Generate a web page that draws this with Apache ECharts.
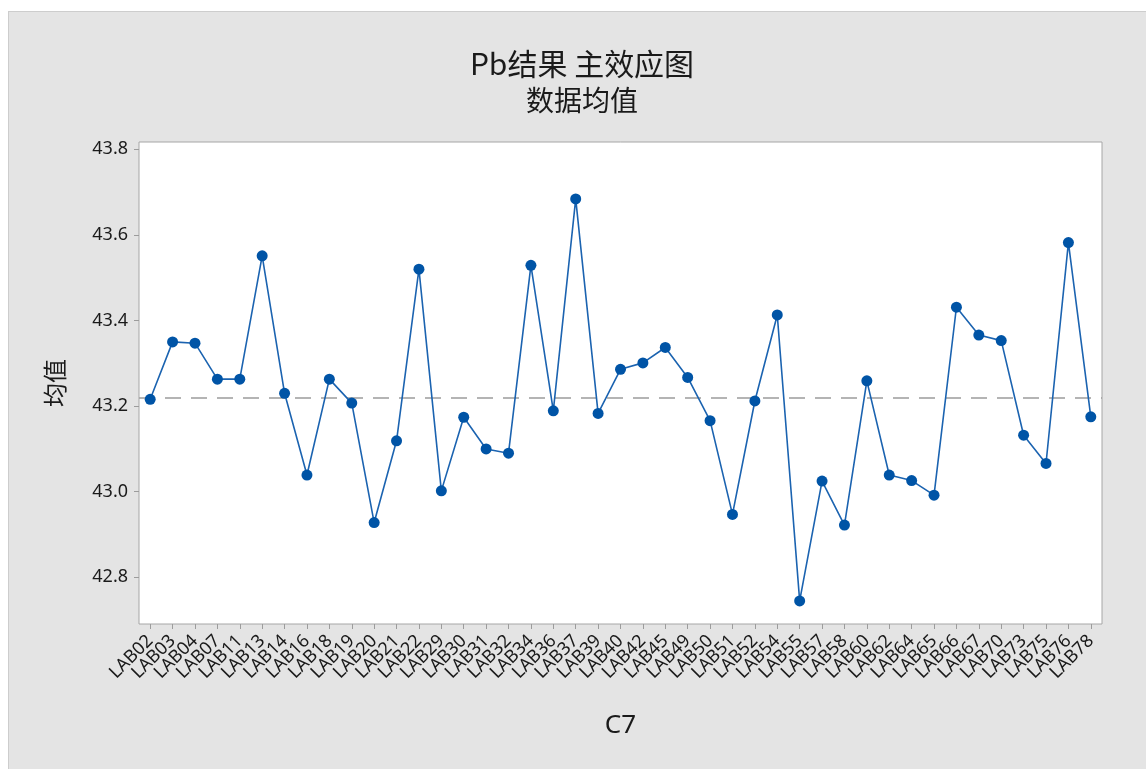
<!DOCTYPE html>
<html>
<head>
<meta charset="utf-8">
<title>Pb结果 主效应图</title>
<script src="https://cdn.jsdelivr.net/npm/echarts@6/dist/echarts.min.js"></script>
<style>
    html, body { margin: 0; padding: 0; background: #fff; }
    #panel {
        position: absolute; left: 8px; top: 11px; right: 0; bottom: 0;
        background: #e4e4e4; border-left: 1px solid #cdcdcd; border-top: 1px solid #cdcdcd;
    }
    #chart { position: absolute; left: 0; top: 0; width: 1146px; height: 769px; }
</style>
</head>
<body>
<div id="panel"></div>
<div id="chart"></div>
<script>
var labs = ['LAB02', 'LAB03', 'LAB04', 'LAB07', 'LAB11', 'LAB13', 'LAB14', 'LAB16', 'LAB18', 'LAB19',
    'LAB20', 'LAB21', 'LAB22', 'LAB29', 'LAB30', 'LAB31', 'LAB32', 'LAB34', 'LAB36', 'LAB37',
    'LAB39', 'LAB40', 'LAB42', 'LAB45', 'LAB49', 'LAB50', 'LAB51', 'LAB52', 'LAB54', 'LAB55',
    'LAB57', 'LAB58', 'LAB60', 'LAB62', 'LAB64', 'LAB65', 'LAB66', 'LAB67', 'LAB70', 'LAB73',
    'LAB75', 'LAB76', 'LAB78'];
var means = [43.216, 43.350, 43.347, 43.263, 43.263, 43.551, 43.230, 43.039, 43.263, 43.207,
    42.928, 43.119, 43.520, 43.002, 43.174, 43.100, 43.090, 43.529, 43.189, 43.684,
    43.183, 43.286, 43.301, 43.337, 43.267, 43.166, 42.947, 43.212, 43.413, 42.745,
    43.025, 42.922, 43.259, 43.039, 43.026, 42.992, 43.431, 43.366, 43.353, 43.132,
    43.066, 43.582, 43.175];
var yTicks = [42.8, 43.0, 43.2, 43.4, 43.6, 43.8];

var chart = echarts.init(document.getElementById('chart'));
var txt = '#1a1a1a';
var gray = '#9c9c9c';

chart.setOption({
    animation: false,
    backgroundColor: 'transparent',
    title: {
        text: 'Pb结果 主效应图',
        subtext: '数据均值',
        left: 582,
        textAlign: 'center',
        top: 49,
        padding: 0,
        itemGap: 7,
        textStyle: { fontFamily: 'Noto Sans CJK SC', fontSize: 30, fontWeight: 'normal', color: txt },
        subtextStyle: { fontFamily: 'Noto Sans CJK SC', fontSize: 28, color: txt }
    },
    grid: {
        left: 139, top: 142, width: 963, height: 482,
        show: true, backgroundColor: '#fff', borderColor: '#a6a6a6', borderWidth: 1
    },
    xAxis: {
        type: 'category',
        data: labs,
        boundaryGap: true,
        name: 'C7',
        nameLocation: 'middle',
        nameGap: 89,
        nameTextStyle: { fontFamily: 'Noto Sans', fontSize: 26, color: txt },
        axisLine: { show: false },
        axisTick: { show: true, alignWithLabel: true, length: 5, lineStyle: { color: gray } },
        axisLabel: {
            interval: 0, rotate: 45, margin: 14,
            fontFamily: 'Noto Sans', fontSize: 18, color: txt
        },
        splitLine: { show: false }
    },
    yAxis: {
        type: 'value',
        min: 42.691,
        max: 43.817,
        name: '均值',
        nameLocation: 'middle',
        nameGap: 72,
        nameTextStyle: { fontFamily: 'Noto Sans CJK SC', fontSize: 24, color: txt },
        axisLine: { show: false },
        axisTick: { show: true, length: 5, customValues: yTicks, lineStyle: { color: gray } },
        axisLabel: {
            margin: 11, customValues: yTicks,
            fontFamily: 'Noto Sans', fontSize: 18, color: txt,
            formatter: function (v) { return v.toFixed(1); }
        },
        splitLine: { show: false }
    },
    series: [{
        type: 'line',
        data: means,
        symbol: 'circle',
        symbolSize: 11,
        itemStyle: { color: '#0054a6' },
        lineStyle: { color: '#1b63b0', width: 1.6 },
        markLine: {
            silent: true,
            symbol: 'none',
            label: { show: false },
            lineStyle: { color: gray, type: [16, 10], width: 1.5 },
            data: [{ type: 'average' }],
            z: 1
        },
        z: 3
    }]
});
</script>
</body>
</html>
